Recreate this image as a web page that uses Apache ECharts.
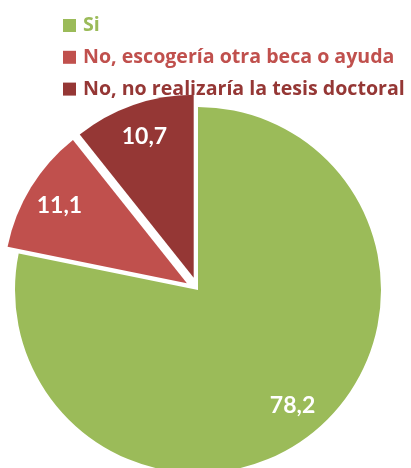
<!DOCTYPE html>
<html>
<head>
<meta charset="utf-8">
<script src="https://cdn.jsdelivr.net/npm/echarts@6/dist/echarts.min.js"></script>
<style>
  html, body { margin: 0; padding: 0; background: #fff; }
  #main { width: 411px; height: 468px; }
</style>
</head>
<body>
<div id="main"></div>
<script>
// datos del gráfico
var categorias = ['Si', 'No, escogería otra beca o ayuda', 'No, no realizaría la tesis doctoral'];
var valores = [78.2, 11.1, 10.7];
var colores = ['#9BBB59', '#C0504D', '#953735'];
var separados = [false, true, true];

var myChart = echarts.init(document.getElementById('main'));

var fuente = '"Open Sans", Lato, sans-serif';
var centro = [198, 290];

var datosPie = categorias.map(function (c, i) {
    return { name: c, value: valores[i], selected: separados[i], itemStyle: { color: colores[i] } };
});
// serie invisible solo para colocar las etiquetas más hacia fuera
var datosEtiq = categorias.map(function (c, i) {
    return { name: c, value: valores[i], selected: separados[i] };
});

var option = {
    animation: false,
    legend: {
        orient: 'vertical',
        left: 63,
        top: 15.5,
        padding: 0,
        itemWidth: 13,
        itemHeight: 13,
        itemGap: 11.8,
        icon: 'rect',
        selectedMode: false,
        data: categorias.map(function (c, i) {
            return { name: c, itemStyle: { color: colores[i] }, textStyle: { color: colores[i] } };
        }),
        textStyle: {
            fontFamily: fuente,
            fontWeight: 'bold',
            fontSize: 19.6,
            padding: [0, 0, 0, 2]
        }
    },
    series: [
        {
            name: 'pie',
            type: 'pie',
            center: centro,
            radius: 183,
            startAngle: 90,
            clockwise: true,
            selectedMode: 'multiple',
            selectedOffset: 13,
            silent: true,
            label: { show: false },
            labelLine: { show: false },
            itemStyle: { borderWidth: 0 },
            data: datosPie
        },
        {
            name: 'etiquetas',
            type: 'pie',
            center: centro,
            radius: [110, 183],
            startAngle: 90,
            clockwise: true,
            selectedMode: 'multiple',
            selectedOffset: 13,
            silent: true,
            legendHoverLink: false,
            itemStyle: { color: 'rgba(0,0,0,0)' },
            label: {
                show: true,
                position: 'inside',
                color: '#fff',
                fontFamily: 'Lato, sans-serif',
                fontWeight: 'bold',
                fontSize: 23,
                formatter: function (p) {
                    return p.value.toFixed(1).replace('.', ',');
                }
            },
            labelLine: { show: false },
            data: datosEtiq
        }
    ]
};

myChart.setOption(option);
</script>
</body>
</html>
